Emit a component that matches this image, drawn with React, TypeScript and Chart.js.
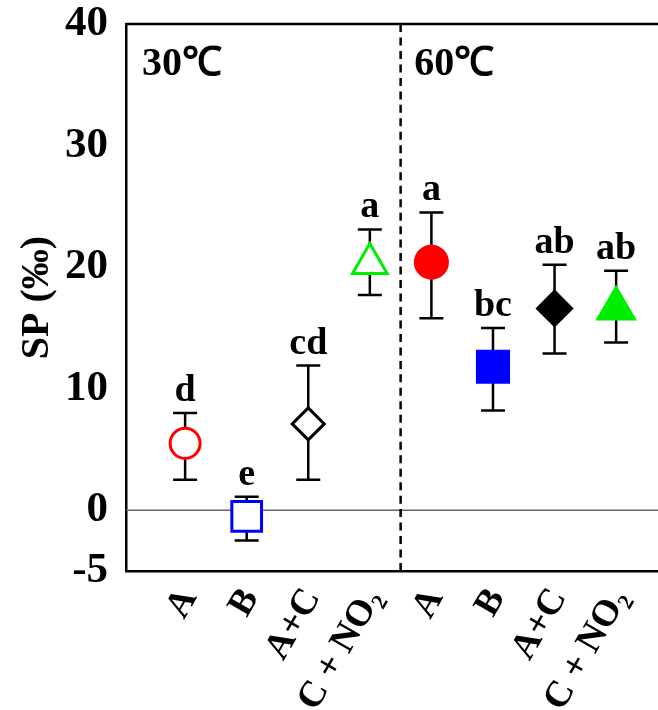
import React, { useEffect, useRef } from "react";
import { Chart, registerables } from "chart.js";

Chart.register(...registerables);

const categories = ["A", "B", "A+C", "C + NO₂", "A", "B", "A+C", "C + NO₂"];
const positions = [1, 2, 3, 4, 5, 6, 7, 8];
const means = [5.5, -0.5, 7.1, 20.3, 20.4, 11.8, 16.6, 16.6];
const upper = [8.0, 1.1, 11.9, 23.1, 24.5, 15.0, 20.2, 19.7];
const lower = [2.5, -2.5, 2.5, 17.7, 15.8, 8.2, 12.9, 13.8];
const letters = ["d", "e", "cd", "a", "a", "bc", "ab", "ab"];
const yTicks = [-5, 0, 10, 20, 30, 40];
const groupLabels = ["30℃", "60℃"];

const markerStyles = ["circle", "rect", "rectRot", "triangle", "circle", "rect", "rectRot", "triangle"];
const markerColors = ["#ff0000", "#0000ff", "#000000", "#00ee00", "#ff0000", "#0000ff", "#000000", "#00ee00"];
const markerFilled = [false, false, false, false, true, true, true, true];
const markerRadius = [15, 21, 16, 20, 16, 22, 17, 21];

const SERIF = "'Liberation Serif', 'Times New Roman', serif";

const overlayPlugin = {
  id: "overlay",
  beforeDatasetsDraw(chart: any) {
    const { ctx, chartArea, scales } = chart;
    const xs = scales.x;
    const ys = scales.y;
    ctx.save();
    // zero line
    ctx.strokeStyle = "#666666";
    ctx.lineWidth = 1.5;
    ctx.beginPath();
    ctx.moveTo(chartArea.left, ys.getPixelForValue(0));
    ctx.lineTo(chartArea.right, ys.getPixelForValue(0));
    ctx.stroke();
    // dashed divider
    ctx.strokeStyle = "#000000";
    ctx.lineWidth = 2.5;
    const len = chartArea.bottom - chartArea.top;
    const n = Math.round((len - 8) / 13.5);
    ctx.setLineDash([8, (len - 8) / n - 8]);
    ctx.beginPath();
    const xd = xs.getPixelForValue(4.5);
    ctx.moveTo(xd, chartArea.top);
    ctx.lineTo(xd, chartArea.bottom);
    ctx.stroke();
    ctx.setLineDash([]);
    // top line
    ctx.beginPath();
    ctx.moveTo(chartArea.left, chartArea.top);
    ctx.lineTo(chartArea.right, chartArea.top);
    ctx.stroke();
    // error bars
    ctx.lineWidth = 2.5;
    positions.forEach((p, i) => {
      const x = xs.getPixelForValue(p);
      const yu = ys.getPixelForValue(upper[i]);
      const yl = ys.getPixelForValue(lower[i]);
      ctx.beginPath();
      ctx.moveTo(x, yu);
      ctx.lineTo(x, yl);
      ctx.moveTo(x - 12, yu);
      ctx.lineTo(x + 12, yu);
      ctx.moveTo(x - 12, yl);
      ctx.lineTo(x + 12, yl);
      ctx.stroke();
      // letters
      ctx.fillStyle = "#000";
      ctx.font = `bold 38px ${SERIF}`;
      ctx.textAlign = "center";
      ctx.textBaseline = "alphabetic";
      ctx.fillText(letters[i], x, yu - 12);
    });
    // group labels
    ctx.font = `bold 40px ${SERIF}`;
    ctx.textAlign = "left";
    ctx.fillText(groupLabels[0], xs.getPixelForValue(0.3), ys.getPixelForValue(35.8));
    ctx.fillText(groupLabels[1], xs.getPixelForValue(4.72), ys.getPixelForValue(35.8));
    ctx.restore();
  },
};

export default function App() {
  const ref = useRef<HTMLCanvasElement>(null);
  useEffect(() => {
    document.body.style.margin = "0";
    const canvas = ref.current!;
    const chart = new Chart(canvas, {
      type: "scatter",
      data: {
        datasets: [
          {
            data: positions.map((p, i) => ({ x: p, y: means[i] })),
            pointStyle: markerStyles as any,
            pointRadius: markerRadius,
            pointHoverRadius: markerRadius,
            pointBorderWidth: 3,
            pointBorderColor: markerColors,
            pointBackgroundColor: markerColors.map((c, i) => (markerFilled[i] ? c : "#ffffff")),
            clip: false as any,
          },
        ],
      },
      options: {
        animation: false,
        responsive: false,
        layout: { autoPadding: false, padding: { top: 24, right: 0, left: 0, bottom: 0 } },
        plugins: { legend: { display: false }, tooltip: { enabled: false } },
        scales: {
          x: {
            type: "linear",
            min: 0.04,
            max: 8.68,
            grid: { display: false },
            border: { display: true, color: "#000", width: 2.5 },
            afterBuildTicks: (scale: any) => {
              scale.ticks = positions.map((p) => ({ value: p }));
            },
            afterFit: (scale: any) => {
              scale.height = 139;
              scale.paddingLeft = 0;
              scale.paddingRight = 0;
            },
            ticks: {
              autoSkip: false,
              minRotation: 60,
              maxRotation: 60,
              padding: 2,
              labelOffset: 4,
              color: "#000",
              font: { family: SERIF, size: 37, weight: "bold" },
              callback: (v: any) => categories[positions.indexOf(Number(v))] ?? "",
            },
          },
          y: {
            type: "linear",
            min: -5,
            max: 40,
            grid: { display: false },
            border: { display: true, color: "#000", width: 2.5 },
            afterBuildTicks: (scale: any) => {
              scale.ticks = yTicks.map((v) => ({ value: v }));
            },
            afterFit: (scale: any) => {
              scale.width = 126;
              scale.paddingTop = 0;
              scale.paddingBottom = 0;
            },
            ticks: {
              padding: 10,
              color: "#000",
              font: { family: SERIF, size: 43, weight: "bold" },
            },
            title: {
              display: true,
              text: "SP (‰)",
              color: "#000",
              padding: { top: 14, bottom: 0 },
              font: { family: SERIF, size: 40, weight: "bold" },
            },
          },
        },
      },
      plugins: [overlayPlugin],
    });
    return () => chart.destroy();
  }, []);
  return <canvas ref={ref} width={658} height={710} style={{ display: "block" }} />;
}
